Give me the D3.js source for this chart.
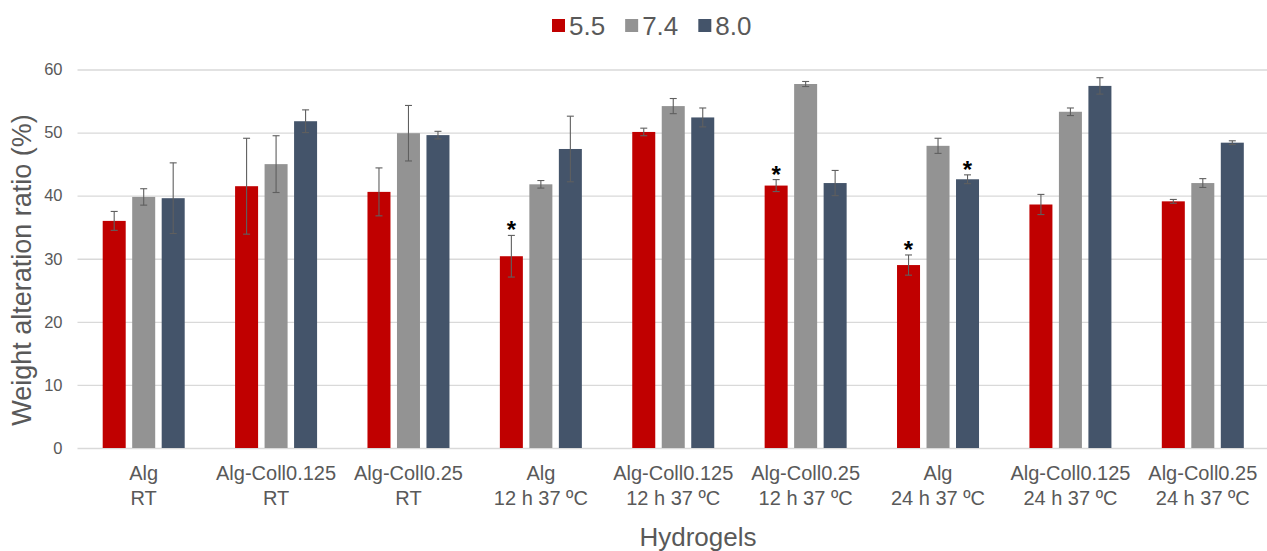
<!DOCTYPE html>
<html>
<head>
<meta charset="utf-8">
<script src="https://cdn.jsdelivr.net/npm/d3@7"></script>
<style>
  html, body { margin: 0; padding: 0; background: #fff; }
  svg { display: block; font-family: "Liberation Sans", Arial, sans-serif; }
</style>
</head>
<body>
<svg id="chart" width="1267" height="551"></svg>
<script>
// Hydrogel names and incubation conditions (two-line category labels)
const hydrogels = ["Alg", "Alg-Coll0.125", "Alg-Coll0.25", "Alg", "Alg-Coll0.125", "Alg-Coll0.25", "Alg", "Alg-Coll0.125", "Alg-Coll0.25"];
const conditions = ["RT", "RT", "RT", "12 h 37 ºC", "12 h 37 ºC", "12 h 37 ºC", "24 h 37 ºC", "24 h 37 ºC", "24 h 37 ºC"];

// pH series
const seriesNames = ["5.5", "7.4", "8.0"];
const seriesColors = ["#C00000", "#939393", "#44546A"];

// Weight alteration ratio (%) per pH, with standard deviation
const ph55 = [36.0, 41.5, 40.6, 30.4, 50.1, 41.6, 29.0, 38.6, 39.1];
const ph74 = [39.8, 45.0, 49.9, 41.8, 54.2, 57.7, 47.9, 53.3, 42.0];
const ph80 = [39.6, 51.8, 49.6, 47.4, 52.4, 42.0, 42.6, 57.4, 48.4];
const sd55 = [1.5, 7.6, 3.8, 3.3, 0.6, 0.95, 1.6, 1.6, 0.3];
const sd74 = [1.3, 4.5, 4.4, 0.6, 1.2, 0.4, 1.2, 0.6, 0.7];
const sd80 = [5.6, 1.8, 0.6, 5.2, 1.5, 2.0, 0.7, 1.3, 0.3];

// Statistically significant bars: [category index, series]
const significant = [[3, "5.5"], [5, "5.5"], [6, "5.5"], [6, "8.0"]];

// Y axis ticks
const yTicks = [0, 10, 20, 30, 40, 50, 60];

const values = { "5.5": ph55, "7.4": ph74, "8.0": ph80 };
const errors = { "5.5": sd55, "7.4": sd74, "8.0": sd80 };

const svg = d3.select("#chart");
const textColor = "#595959";

const categories = d3.range(hydrogels.length);
const x0 = d3.scaleBand().domain(categories).range([77.5, 1269]).paddingInner(0).paddingOuter(0);
const x1 = d3.scaleBand().domain(seriesNames).range([-41, 41]).paddingInner(0.22).paddingOuter(0);
const y = d3.scaleLinear().domain([0, 60]).range([448, 69.5]);

const cx = i => x0(i) + x0.bandwidth() / 2;

// Gridlines and tick labels
const yAxis = d3.axisLeft(y).tickValues(yTicks).tickSize(-(1267 - 77.5)).tickPadding(15);
const gy = svg.append("g").attr("transform", "translate(77.5,0)").call(yAxis);
gy.select(".domain").remove();
gy.selectAll(".tick line").attr("stroke", "#d9d9d9").attr("stroke-width", 1.3);
gy.selectAll(".tick text")
  .attr("fill", textColor)
  .style("font-size", "16.5px")
  .style("font-family", "Liberation Sans, Arial, sans-serif");

// Bars
const rows = [];
categories.forEach(i => seriesNames.forEach((s, k) => rows.push({ i, s, k, v: values[s][i], e: errors[s][i] })));

svg.append("g").selectAll("rect").data(rows).join("rect")
  .attr("x", d => cx(d.i) + x1(d.s))
  .attr("width", x1.bandwidth())
  .attr("y", d => y(d.v))
  .attr("height", d => y(0) - y(d.v))
  .attr("fill", d => seriesColors[d.k]);

// Error bars
const eg = svg.append("g").attr("stroke", "#5f5f5f").attr("stroke-width", 1.1);
rows.forEach(d => {
  const xm = cx(d.i) + x1(d.s) + x1.bandwidth() / 2;
  eg.append("line").attr("x1", xm).attr("x2", xm).attr("y1", y(d.v + d.e)).attr("y2", y(d.v - d.e));
  eg.append("line").attr("x1", xm - 3.5).attr("x2", xm + 3.5).attr("y1", y(d.v + d.e)).attr("y2", y(d.v + d.e));
  eg.append("line").attr("x1", xm - 3.5).attr("x2", xm + 3.5).attr("y1", y(d.v - d.e)).attr("y2", y(d.v - d.e));
});

// Significance markers
svg.append("g").selectAll("text").data(significant).join("text")
  .attr("x", d => cx(d[0]) + x1(d[1]) + x1.bandwidth() / 2)
  .attr("y", d => y(values[d[1]][d[0]] + errors[d[1]][d[0]]) + 3)
  .attr("text-anchor", "middle")
  .attr("fill", "#000")
  .style("font-size", "24px")
  .style("font-weight", "bold")
  .text("*");

// Category labels
const lg = svg.append("g").attr("fill", textColor).style("font-size", "20px").attr("text-anchor", "middle");
categories.forEach(i => {
  const t = lg.append("text").attr("x", cx(i));
  t.append("tspan").attr("x", cx(i)).attr("y", 479.5).text(hydrogels[i]);
  t.append("tspan").attr("x", cx(i)).attr("y", 504.5).text(conditions[i]);
});

// Axis titles
svg.append("text")
  .attr("x", 698).attr("y", 546)
  .attr("text-anchor", "middle")
  .attr("fill", textColor)
  .style("font-size", "26px")
  .text("Hydrogels");

svg.append("text")
  .attr("transform", "translate(31,270) rotate(-90)")
  .attr("text-anchor", "middle")
  .attr("fill", textColor)
  .style("font-size", "27px")
  .text("Weight alteration ratio (%)");

// Legend
const leg = svg.append("g");
let lx = 552;
seriesNames.forEach((s, k) => {
  leg.append("rect").attr("x", lx).attr("y", 19).attr("width", 13).attr("height", 13).attr("fill", seriesColors[k]);
  const t = leg.append("text").attr("x", lx + 17).attr("y", 34.5)
    .attr("fill", textColor).style("font-size", "26px").text(s);
  lx += 17 + t.node().getComputedTextLength() + 20;
});
</script>
</body>
</html>
